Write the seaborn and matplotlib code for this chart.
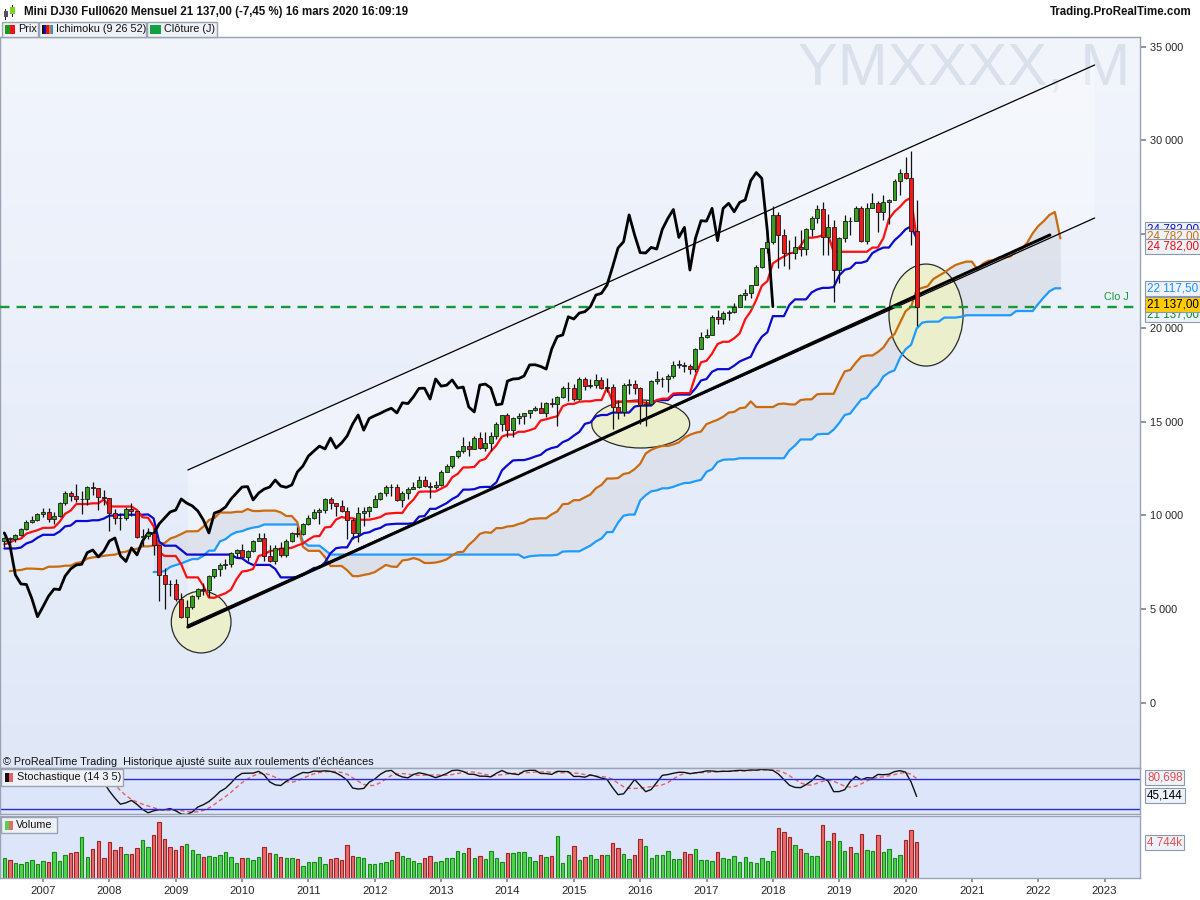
import numpy as np
import pandas as pd
import matplotlib
matplotlib.use("Agg")
import matplotlib.pyplot as plt
import seaborn as sns
from matplotlib.patches import Ellipse, Rectangle, Polygon
from matplotlib.colors import LinearSegmentedColormap

sns.set_theme(style="white")
plt.rcParams['font.family'] = ['Liberation Sans', 'DejaVu Sans']

# ---------------- DATA (monthly, Jun 2006 .. Mar 2020, back-adjusted futures) -------------
first_open = 8650
closes = [
    8800, 8760, 8950, 9260, 9670, 9760, 10080,
    10190, 9810, 9980, 10660, 11200, 11040, 10880, 10900, 11520, 11470, 10990, 10930,
    10130, 9870, 9850, 10350, 10240, 8850, 8900, 9070, 8430, 6830, 6350, 6320,
    5550, 4600, 5140, 5700, 6080, 6050, 6770, 7150, 7360, 7400, 8020, 8160,
    7790, 8100, 8640, 8800, 7850, 7550, 8270, 7900, 8640, 9070, 9020, 9550,
    9870, 10190, 10290, 10880, 10660, 10510, 10240, 9760, 9070, 10130, 10240, 10450,
    10880, 11200, 11520, 11540, 10830, 11200, 11410, 11520, 11890, 11570, 11500, 11630,
    12320, 12640, 13170, 13440, 13700, 13550, 14130, 13600, 13870, 14240, 14880, 15360,
    14550, 15180, 15320, 15450, 15600, 15720, 15470, 16010, 15970, 16330, 16780, 16790,
    16210, 17280, 16900, 16950, 17230, 16800, 16850, 15790, 15520, 16960, 17010, 16800,
    15900, 15950, 17170, 17280, 17300, 17440, 18030, 18040, 17950, 17810, 18880, 19540,
    19630, 20600, 20480, 20800, 20870, 21140, 21760, 21850, 22290, 23250, 24270, 24600,
    26030, 24960, 24020, 24000, 24300, 24210, 25260, 25840, 26320, 24830, 25370, 23090,
    24780, 25720, 25700, 26380, 24660, 26380, 26650, 26200, 26700, 26830, 27860, 28290,
    27980, 25180, 21137,
]
highs = [
    8850, 8830, 9000, 9320, 9760, 9960, 10130,
    10380, 10380, 10180, 10730, 11280, 11280, 11700, 11280, 11580, 11780, 11430, 11380,
    10950, 10350, 10150, 10450, 10680, 10250, 9300, 9350, 9350, 8450, 7200, 6580,
    6630, 5860, 5470, 5760, 6140, 6420, 6800, 7170, 7440, 7660, 8040, 8200,
    8480, 8160, 8670, 9040, 9050, 8400, 8400, 8560, 8720, 9140, 9380, 9590,
    10000, 10350, 10390, 10950, 10970, 10670, 10850, 10430, 9880, 10460, 10430, 10530,
    11090, 11250, 11600, 11660, 11700, 11290, 11500, 11760, 12100, 12130, 11760, 11830,
    12430, 12740, 13180, 13490, 14180, 13950, 14230, 14440, 14470, 14430, 14960, 15380,
    15440, 15250, 15480, 15480, 15640, 15860, 16040, 16070, 16250, 16380, 16880, 17120,
    17000, 17360, 17400, 17300, 17530, 17370, 17320, 16990, 16160, 17090, 17280, 17220,
    16830, 16180, 17200, 17680, 17400, 17530, 18220, 18270, 18190, 18070, 18920, 19770,
    19930, 20700, 20980, 20920, 20970, 21350, 21800, 22060, 22300, 23370, 24280, 24760,
    26480, 26180, 25300, 24700, 24880, 25200, 25330, 25960, 26560, 26730, 26060, 25750,
    24830, 26020, 25940, 26480, 26480, 26680, 27180, 26780, 27080, 26880, 27950, 28480,
    29120, 29450, 26850,
]
lows = [
    8300, 8340, 8600, 8900, 9250, 9580, 9680,
    9930, 9630, 9520, 9930, 10580, 10780, 10730, 10080, 10580, 11080, 10280, 10580,
    9180, 9550, 9250, 9750, 9950, 8800, 8380, 8750, 7910, 5430, 5000, 5700,
    5440, 4540, 4050, 5010, 5540, 5760, 5630, 6640, 6790, 7140, 7240, 7790,
    7780, 7590, 8070, 8630, 7560, 7540, 7420, 7780, 7810, 8600, 8870, 8970,
    9480, 9810, 9520, 10150, 10330, 9960, 10180, 8730, 8760, 8580, 9430, 9930,
    10450, 10850, 11060, 11030, 10750, 10430, 10890, 11400, 11460, 11530, 10950, 11400,
    11560, 12370, 12530, 13040, 13340, 13190, 13530, 13550, 13460, 13450, 14090, 14480,
    14190, 14200, 14870, 14870, 15190, 15550, 15450, 15230, 15800, 14780, 16280, 16090,
    16090, 16160, 16700, 16820, 16820, 16760, 16580, 14630, 15170, 15290, 16500, 16490,
    14880, 14785, 15990, 16990, 16840, 16570, 17310, 17850, 17630, 17550, 17630, 18880,
    19480, 19630, 20220, 20230, 20410, 20810, 21150, 21480, 21590, 22300, 23190, 24000,
    24500, 23200, 23330, 23150, 23690, 23820, 23880, 24930, 25600, 23910, 23900, 21400,
    22420, 24580, 24980, 25760, 24580, 24460, 26400, 25120, 25760, 25530, 26880, 27100,
    27950, 24450, 20114,
]
# history before the visible window (Apr 2002 .. May 2006), used by the indicators
pre_highs = [
    8190, 7900, 7630, 7000, 6630, 6610, 6110, 6600, 6590,
    6420, 5670, 6070, 6050, 6410, 6880, 6870, 6980, 7240, 7360, 7410, 8010,
    8300, 8300, 8230, 8120, 7880, 8030, 7920, 7780, 7890, 7790, 8140, 8420,
    8420, 8440, 8530, 8210, 8090, 8240, 8270, 8270, 8220, 8130, 8490, 8530,
    8600, 8650, 8890, 8960, 9220,
]
pre_lows = [
    7370, 7360, 6660, 5080, 5600, 5140, 4750, 5830, 5850,
    5540, 5250, 4970, 5540, 5770, 6250, 6450, 6550, 6780, 6930, 7020, 7330,
    7860, 7940, 7550, 7750, 7400, 7700, 7470, 7320, 7600, 7260, 7500, 8090,
    7910, 8010, 7950, 7560, 7650, 7790, 7800, 7960, 7850, 7710, 7890, 8260,
    8210, 8300, 8500, 8500, 8580,
]
volumes_k = [v * 130 for v in [
    20, 18, 15, 14, 16, 18, 14, 17, 16, 26, 17, 23, 25, 26, 41, 21, 29, 37, 20, 36,
    28, 31, 24, 24, 30, 38, 31, 43, 56, 39, 31, 28, 32, 34, 28, 24, 21, 22, 21, 23,
    26, 21, 15, 20, 20, 18, 21, 31, 25, 24, 21, 20, 20, 19, 12, 16, 16, 21, 14, 19,
    20, 18, 33, 22, 21, 20, 14, 14, 15, 16, 18, 26, 22, 20, 17, 15, 20, 22, 16, 17,
    20, 20, 27, 25, 30, 20, 22, 19, 27, 20, 16, 25, 25, 26, 26, 21, 17, 23, 21, 22,
    42, 15, 23, 32, 18, 21,
    23, 19, 23, 23, 35, 30, 24, 19, 23, 39, 32, 20, 23, 23, 27, 19, 19, 26, 24, 29,
    18, 18, 17, 26, 20, 19, 22, 16, 21, 16, 15, 20, 17, 27, 50, 46, 41, 33, 29, 25,
    22, 22, 53, 37, 45, 37, 27, 31, 25, 44, 28, 27, 43, 26, 29, 20, 23, 38, 48]] + [4744]
year_labels = [str(y) for y in range(2007, 2024)]
header_title = "Mini DJ30 Full0620 Mensuel 21 137,00 (-7,45 %) 16 mars 2020 16:09:19"
last_close = 21137
label_tenkan = "24 782,00"
label_ssb = "22 117,50"
label_close = "21 137,00"
label_stoch_d, val_stoch_d = "80,698", 80.698
label_stoch_k, val_stoch_k = "45,144", 45.144
label_volume = "4 744k"
# drawn trend/channel lines (month index, price)
channel_upper = [(33.2, 12427), (197.2, 34027)]
channel_lower = [(33.2, 4160), (197.2, 25867)]
trend_thick = [(33.2, 4050), (189.1, 24960)]
ellipses = [(35.6, 4320, 10.8, 3300), (115.1, 14880, 17.7, 2560), (166.7, 20690, 13.4, 5440)]

# ---------------- INDICATORS -------------
n = len(closes)
npre = len(pre_highs)
opens = [first_open] + closes[:-1]
xi = np.arange(n)
idx_full = np.arange(-npre, n)
H = pd.Series(pre_highs + highs, index=idx_full, dtype=float)
L = pd.Series(pre_lows + lows, index=idx_full, dtype=float)
C = pd.Series(closes, index=xi, dtype=float)

tenkan = (H.rolling(9).max() + L.rolling(9).min()) / 2
kijun = (H.rolling(26).max() + L.rolling(26).min()) / 2
ssa = ((tenkan + kijun) / 2).dropna()
ssb = ((H.rolling(52).max() + L.rolling(52).min()) / 2).dropna()
ssa_x = ssa.index.values + 26
ssb_x = ssb.index.values + 26
ssa = ssa[ssa_x >= 0]; ssa_x = ssa_x[ssa_x >= 0]
ssb = ssb[ssb_x >= 0]; ssb_x = ssb_x[ssb_x >= 0]
chik_x = xi[26:] - 26
chik_y = np.array(closes[26:], dtype=float)

hh14 = H.rolling(14).max().loc[0:]
ll14 = L.rolling(14).min().loc[0:]
raw = 100 * (C - ll14) / (hh14 - ll14)
stoch_k = raw.rolling(3, min_periods=1).mean()
stoch_d = stoch_k.rolling(5, min_periods=1).mean()

# ---------------- FIGURE -------------
W, Hh = 1200, 900
FS = 7.8
fig = plt.figure(figsize=(12, 9), dpi=100)
fig.patch.set_facecolor('white')

def fy(ypix):
    return 1 - ypix / Hh

axw = 1140 / W
ax = fig.add_axes([0, fy(768), axw, 731 / Hh])
ax_s = fig.add_axes([0, fy(814), axw, 46 / Hh])
ax_v = fig.add_axes([0, fy(878), axw, 62 / Hh])

xlim = (-0.78, 205.4)
grad = np.linspace(0, 1, 256).reshape(-1, 1)
bg_main = LinearSegmentedColormap.from_list('bg', ['#f2f5fc', '#e0e8f8'])
ax.imshow(grad, extent=[0, 1, 0, 1], transform=ax.transAxes, cmap=bg_main,
          aspect='auto', zorder=0)
for a in (ax_s, ax_v):
    a.set_facecolor('#dce5fa')
for a in (ax, ax_s, ax_v):
    for sp in a.spines.values():
        sp.set_color('#9aa3b3')
        sp.set_linewidth(1.0)
    a.set_xlim(*xlim)

# channel fill
poly = Polygon([channel_upper[0], channel_upper[1], channel_lower[1], channel_lower[0]],
               closed=True, facecolor='white', alpha=0.35, edgecolor='none', zorder=1)
ax.add_patch(poly)

# cloud
cx = np.intersect1d(ssa_x, ssb_x)
sa = pd.Series(ssa.values, index=ssa_x).loc[cx].values
sb = pd.Series(ssb.values, index=ssb_x).loc[cx].values
ax.fill_between(cx, sa, sb, color='#d8dce6', alpha=0.7, linewidth=0, zorder=1.5)

# ellipses
for (ex, ey, ew, eh) in ellipses:
    ax.add_patch(Ellipse((ex, ey), ew, eh, facecolor=(0.93, 0.94, 0.78, 0.9),
                         edgecolor='#2a2a2a', linewidth=0.9, zorder=2))

# ichimoku lines
LW = 1.6
sns.lineplot(x=ssb_x, y=ssb.values, ax=ax, color='#1e9bff', linewidth=LW, sort=False, zorder=3)
sns.lineplot(x=ssa_x, y=ssa.values, ax=ax, color='#cc6a0e', linewidth=LW, sort=False, zorder=3)
kj = kijun.loc[0:]
tk = tenkan.loc[0:]
sns.lineplot(x=kj.index.values, y=kj.values, ax=ax, color='#0a0ad0', linewidth=LW, sort=False, zorder=3.2)
sns.lineplot(x=tk.index.values, y=tk.values, ax=ax, color='#ff1010', linewidth=LW, sort=False, zorder=3.3)
sns.lineplot(x=chik_x, y=chik_y, ax=ax, color='#000000', linewidth=2.0, sort=False, zorder=3.4)

# trend lines
ax.plot(*zip(*channel_upper), color='black', linewidth=0.9, zorder=3.5)
ax.plot(*zip(*channel_lower), color='black', linewidth=0.9, zorder=3.5)
ax.plot(*zip(*trend_thick), color='black', linewidth=2.2, zorder=3.5)

# candles
o = np.array(opens, float); c = np.array(closes, float)
up = c >= o
body_col = np.where(up, '#35a01e', '#f51818')
ax.vlines(xi, lows, highs, color='#111111', linewidth=0.9, zorder=4)
hgt = c - o
hgt = np.where(np.abs(hgt) < 25, np.where(up, 25, -25), hgt)
ax.bar(xi, hgt, bottom=o, width=0.72, color=body_col, edgecolor='#1a1a1a',
       linewidth=0.6, zorder=5)

# close dashed line
ax.axhline(last_close, color='#179a35', linestyle=(0, (4, 3)), linewidth=1.7, zorder=3.6)
ax.annotate('Clo J', xy=(0.99, last_close), xycoords=ax.get_yaxis_transform(),
            xytext=(0, 5), textcoords='offset pixels', ha='right', va='bottom',
            color='#179a35', fontsize=FS)

ax.text(0.991, (768 - 85) / 731, 'YMXXXX, M', transform=ax.transAxes, ha='right',
        va='baseline', fontsize=43, color='#dae0ec', zorder=0.5)
ax.text(0.003, (768 - 762) / 731, "\u00a9 ProRealTime Trading  Historique ajust\u00e9 suite aux roulements d'\u00e9ch\u00e9ances",
        transform=ax.transAxes, ha='left', va='center', fontsize=FS, color='#111111', zorder=6)

ax.set_ylim(-3467, 35520)
ax.yaxis.tick_right()
yt = list(range(0, 35001, 5000))
ax.set_yticks(yt)
ax.set_yticklabels([f"{v:,}".replace(',', ' ') for v in yt])
ax.tick_params(axis='y', length=4, color='#808890', labelsize=FS, pad=3, right=True)
ax.tick_params(axis='x', bottom=False, labelbottom=False)
ax.grid(False)

def rlabel(a, val, text, color, dy_pix=0, fc='#eef2fb'):
    a.annotate(text, xy=(1.0, val), xycoords=a.get_yaxis_transform(),
               xytext=(7, -dy_pix), textcoords='offset pixels', ha='left', va='center',
               color=color, fontsize=FS + 0.6,
               bbox=dict(boxstyle='square,pad=0.15', fc=fc, ec='#8c98aa', lw=0.8),
               annotation_clip=False, zorder=10)

tk_last = 24782
rlabel(ax, tk_last, label_tenkan, '#1010c8', dy_pix=-9)
rlabel(ax, tk_last, label_tenkan, '#d07010', dy_pix=-2)
rlabel(ax, tk_last, label_tenkan, '#e81010', dy_pix=8)
rlabel(ax, 22117.5, label_ssb, '#1e90ff')
rlabel(ax, last_close, label_close, '#109030', dy_pix=8)
rlabel(ax, last_close, label_close, '#000000', dy_pix=-2, fc='#ffcc00')

# stochastic
sns.lineplot(x=stoch_d.index.values, y=stoch_d.values, ax=ax_s, color='#e86060',
             linewidth=1.0, linestyle=(0, (3, 2)), sort=False)
sns.lineplot(x=stoch_k.index.values, y=stoch_k.values, ax=ax_s, color='#111111',
             linewidth=1.0, sort=False)
ax_s.axhline(80, color='#2a2ad8', linewidth=1.0)
ax_s.axhline(20, color='#2a2ad8', linewidth=1.0)
ax_s.set_ylim(10, 102)
ax_s.set_xticks([]); ax_s.set_yticks([])
rlabel(ax_s, val_stoch_d, label_stoch_d, '#e05050', dy_pix=-1)
rlabel(ax_s, val_stoch_k, label_stoch_k, '#000000', dy_pix=-1)

# volume
vol_face = np.where(up, '#4fd44f', '#e86a6a')
vol_edge = np.where(up, '#178a17', '#a52222')
ax_v.bar(xi, volumes_k, width=0.62, color=vol_face, edgecolor=vol_edge, linewidth=0.8)
ax_v.set_ylim(0, 62 * 130)
ax_v.set_yticks([])
tick_pos = [(2007 + k - 2006) * 12 - 5 for k in range(len(year_labels))]
ax_v.set_xticks(tick_pos)
ax_v.set_xticklabels(year_labels)
ax_v.tick_params(axis='x', length=3, color='#808890', labelsize=FS + 0.4, pad=3, bottom=True)
rlabel(ax_v, volumes_k[-1], label_volume, '#e05050', dy_pix=1)
for a in (ax, ax_s, ax_v):
    a.set_xlim(*xlim)
    a.set_xlabel(''); a.set_ylabel('')

# legend boxes / header drawn in figure pixels
def fig_box(x0, y0, x1, y1, fc='#eef1f6', ec='#9aa3b3'):
    fig.add_artist(Rectangle((x0 / W, fy(y1)), (x1 - x0) / W, (y1 - y0) / Hh,
                             transform=fig.transFigure, facecolor=fc, edgecolor=ec,
                             linewidth=1.0, zorder=20))

def fig_rect(x0, y0, x1, y1, color):
    fig.add_artist(Rectangle((x0 / W, fy(y1)), (x1 - x0) / W, (y1 - y0) / Hh,
                             transform=fig.transFigure, facecolor=color, edgecolor='none',
                             zorder=21))

def fig_txt(x, y, s, **kw):
    fig.text(x / W, fy(y), s, va='center', zorder=22, **kw)

# header
fig_rect(5, 9, 6, 20, '#222222'); fig_rect(4, 11, 8, 17, '#555555')
fig_rect(12, 5, 13, 17, '#222222'); fig_rect(10, 7, 15, 14, '#7ed321')
fig_txt(24, 12, header_title, fontsize=FS + 0.5, fontweight='bold', color='#111111')
fig.text(1192 / W, fy(12), 'Trading.ProRealTime.com', ha='right', va='center',
         fontsize=FS + 0.5, fontweight='bold', color='#111111')

fig_box(2, 22, 38, 37)
fig_rect(5, 25, 10, 34, '#1c9a1c'); fig_rect(10, 25, 15, 34, '#ee1111')
fig_txt(18, 29.5, 'Prix', fontsize=FS, color='#111111')
fig_box(39, 22, 146, 37)
for k, colr in enumerate(['#111111', '#1010c8', '#ee1111', '#e07a10', '#1e90ff']):
    fig_rect(42 + 2.2 * k, 25, 44.2 + 2.2 * k, 34, colr)
fig_txt(56, 29.5, 'Ichimoku (9 26 52)', fontsize=FS, color='#111111')
fig_box(147, 22, 217, 37)
fig_rect(150, 25, 161, 34, '#12a040')
fig_txt(164, 29.5, 'Cl\u00f4ture (J)', fontsize=FS, color='#111111')

fig_box(1, 769, 123, 786)
fig_rect(5, 773, 9, 782, '#111111'); fig_rect(9, 773, 13, 782, '#e86060')
fig_txt(17, 777.5, 'Stochastique (14 3 5)', fontsize=FS, color='#111111')
fig_box(1, 817, 57, 833)
fig_rect(5, 821, 9, 830, '#4fd44f'); fig_rect(9, 821, 13, 830, '#e86a6a')
fig_txt(16, 825, 'Volume', fontsize=FS, color='#111111')

fig.savefig('out.png', dpi=100, facecolor='white')
